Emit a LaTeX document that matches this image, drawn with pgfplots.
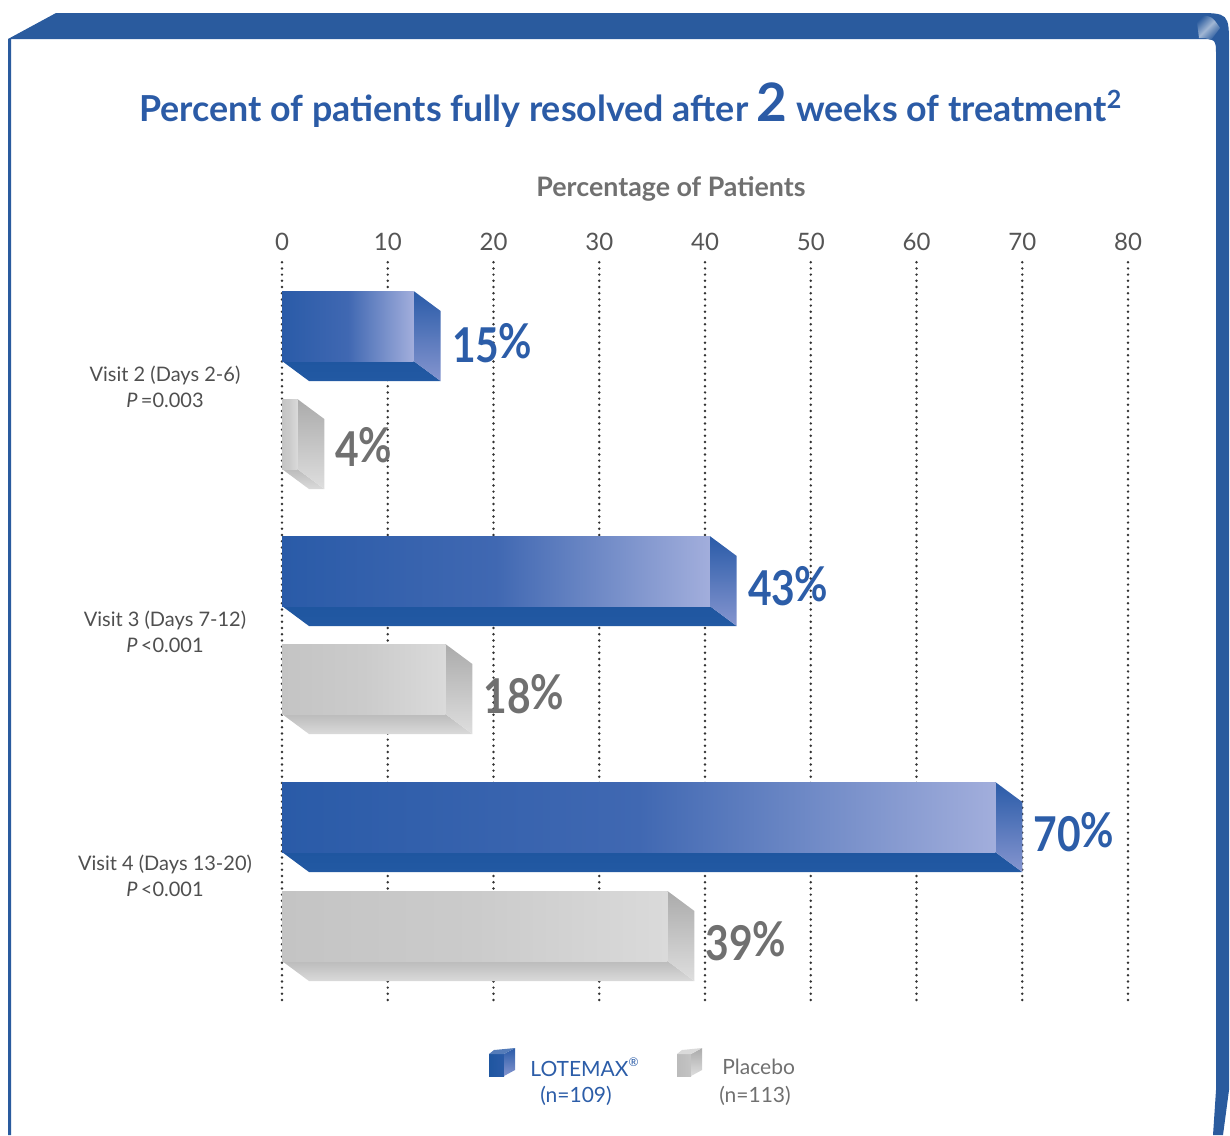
\documentclass[border=0pt]{standalone}
\usepackage{fontspec}
\setmainfont{Lato}
\usepackage{pgfplots}
\pgfplotsset{compat=1.18}
\usepackage{graphicx}

\definecolor{frameblue}{HTML}{2A5B9E}
\definecolor{titleblue}{HTML}{2B5BA6}
\definecolor{lotblue}{HTML}{2C5DA8}
\definecolor{textgray}{HTML}{707070}
\definecolor{tickgray}{HTML}{555555}
\definecolor{labelgray}{HTML}{4F4F4F}
% LOTEMAX bar faces
\definecolor{lotA}{HTML}{2A5BA8}
\definecolor{lotM}{HTML}{4068B2}
\definecolor{lotB}{HTML}{A2AEDC}
\definecolor{lotC}{HTML}{1F56A0}
\definecolor{lotD}{HTML}{2259A3}
\definecolor{lotE}{HTML}{2A5BA8}
\definecolor{lotF}{HTML}{8595CF}
% Placebo bar faces
\definecolor{plaA}{HTML}{C4C4C4}
\definecolor{plaM}{HTML}{CBCBCB}
\definecolor{plaB}{HTML}{DADADA}
\definecolor{plaC}{HTML}{BBBBBB}
\definecolor{plaD}{HTML}{DADADA}
\definecolor{plaE}{HTML}{ABABAB}
\definecolor{plaF}{HTML}{DEDEDE}

% 3D bar: #1 value (%), #2 top edge (px from top), #3 colour prefix
\newcommand\tdbar[3]{%
  \pgfmathsetmacro\xe{#1}%
  \pgfmathsetmacro\xf{#1-2.55}%
  \pgfmathsetmacro\ya{-#2}%
  \pgfmathsetmacro\yb{-#2-70}%
  \pgfmathsetmacro\yc{-#2-90}%
  \pgfmathsetmacro\yd{-#2-20}%
  \addplot[draw=none, mark=none, top color=#3C, bottom color=#3D]
    coordinates {(0,\yb) (\xf,\yb) (\xe,\yc) (2.55,\yc)} -- cycle;
  \addplot[draw=none, mark=none, top color=#3E, bottom color=#3F]
    coordinates {(\xf,\ya) (\xe,\yd) (\xe,\yc) (\xf,\yb)} -- cycle;
  \addplot[draw=none, mark=none, left color=#3A, right color=#3B, middle color=#3M]
    coordinates {(0,\ya) (\xf,\ya) (\xf,\yb) (0,\yb)} -- cycle;
}
\newcommand\barlab[1]{\scalebox{0.85}[1]{\fontsize{24}{24}\selectfont\bfseries #1\kern-0.02em\raisebox{0.08em}{\%}}}

\begin{document}
\begin{tikzpicture}[x=0.5pt,y=-0.5pt]
\useasboundingbox (0,0) rectangle (1230,1135);
% frame
\fill[frameblue] (8,1135) -- (8,39) -- (56,13) -- (1195,13) .. controls (1229,13) .. (1229,47)
  -- (1229,1090) -- (1223,1135) -- (1213,1135) -- (1216,1090) -- (1216,56) .. controls (1216,39) .. (1199,39)
  -- (11,39) -- (11,1135) -- cycle;
\shade[top color=frameblue, bottom color=frameblue, middle color=white!70!frameblue, shading angle=45, opacity=0.8]
  (1196,15) .. controls (1212,16) .. (1220,28) -- (1211,40) .. controls (1206,38) .. (1199,38) -- cycle;
% title
\node[anchor=base, text=titleblue, font=\fontsize{17.9}{20}\selectfont\bfseries, inner sep=0pt]
  at (631,121) {Percent of patients fully resolved after {\fontsize{26.5}{26}\selectfont 2} weeks of treatment\textsuperscript{2}};
% axis title
\node[anchor=base, text=textgray, font=\fontsize{13.4}{15}\selectfont\bfseries, inner sep=0pt]
  at (671,196) {Percentage of Patients};

\begin{axis}[
  at={(141pt,-129pt)}, anchor=north west,
  scale only axis, width=423pt, height=371pt,
  xmin=0, xmax=80, ymin=-1000, ymax=-258,
  axis line style={draw=none}, tick style={draw=none},
  major tick length=0pt,
  xtick={0,10,...,80}, xticklabel pos=upper,
  xmajorgrids,
  grid style={line width=1.35pt, line cap=round, dash pattern=on 0pt off 3.1pt, color=black!80},
  xticklabel style={font=\fontsize{12}{14}\selectfont, text=tickgray},
  /pgf/number format/assume math mode=true,
  ytick={-387,-632,-876},
  yticklabels={{Visit 2 (Days 2-6)\\\textit{P}\,=0.003},
               {Visit 3 (Days 7-12)\\\textit{P}\,<0.001},
               {Visit 4 (Days 13-20)\\\textit{P}\,<0.001}},
  yticklabel style={align=center, anchor=center, xshift=-58.5pt,
                    font=\fontsize{10}{13}\selectfont, text=labelgray},
  clip=false,
]
% LOTEMAX (n=109)
\tdbar{15}{291}{lot}
\tdbar{43}{536}{lot}
\tdbar{70}{782}{lot}
% Placebo (n=113)
\tdbar{4}{399}{pla}
\tdbar{18}{644}{pla}
\tdbar{39}{891}{pla}
\node[anchor=west, text=lotblue, inner sep=0pt, xshift=5.5pt] at (axis cs:15,-343) {\barlab{15}};
\node[anchor=west, text=lotblue, inner sep=0pt, xshift=5.5pt] at (axis cs:43,-586) {\barlab{43}};
\node[anchor=west, text=lotblue, inner sep=0pt, xshift=5.5pt] at (axis cs:70,-832) {\barlab{70}};
\node[anchor=west, text=textgray, inner sep=0pt, xshift=5.5pt] at (axis cs:4,-447) {\barlab{4}};
\node[anchor=west, text=textgray, inner sep=0pt, xshift=5.5pt] at (axis cs:18,-694) {\barlab{18}};
\node[anchor=west, text=textgray, inner sep=0pt, xshift=5.5pt] at (axis cs:39,-941) {\barlab{39}};
\end{axis}

% legend
\shade[left color=lotC, right color=lotA] (489,1054) rectangle (504,1076);
\shade[top color=lotA, bottom color=lotF] (504,1054) -- (515,1048) -- (515,1070) -- (504,1076) -- cycle;
\fill[lotA!80!white] (489,1054) -- (494,1050) -- (515,1048) -- (504,1054) -- cycle;
\node[anchor=west, text=lotblue, font=\fontsize{10.5}{12}\selectfont, inner sep=0pt] at (530,1067)
  {LOTEMAX\raisebox{0.45em}{\fontsize{6}{6}\selectfont ®}};
\node[text=lotblue, font=\fontsize{10.5}{12}\selectfont, inner sep=0pt] at (576,1096) {(n=109)};
\shade[left color=plaC, right color=plaA] (677,1054) rectangle (691,1076);
\shade[top color=plaE, bottom color=plaF] (691,1054) -- (702,1048) -- (702,1070) -- (691,1076) -- cycle;
\fill[plaB] (677,1054) -- (682,1050) -- (702,1048) -- (691,1054) -- cycle;
\node[anchor=west, text=textgray, font=\fontsize{10.5}{12}\selectfont, inner sep=0pt] at (722,1067) {Placebo};
\node[text=textgray, font=\fontsize{10.5}{12}\selectfont, inner sep=0pt] at (755,1096) {(n=113)};
\end{tikzpicture}
\end{document}
